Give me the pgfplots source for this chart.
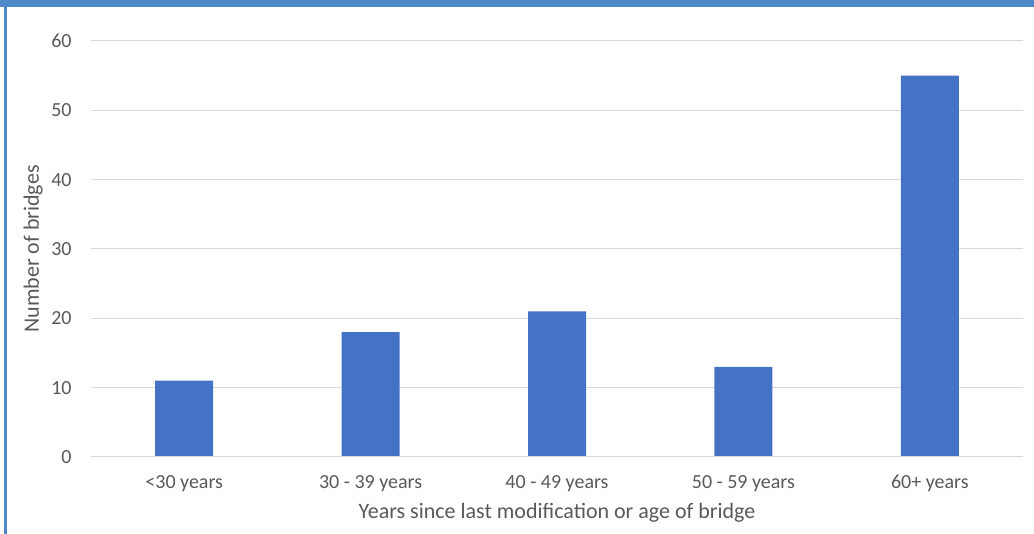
\documentclass[border=0pt]{standalone}
\usepackage{fontspec}
\setmainfont{Carlito}
\usepackage{pgfplots}
\pgfplotsset{compat=1.18}
\definecolor{barblue}{HTML}{4472C4}
\definecolor{frameblue}{HTML}{4F88C8}
\definecolor{gridgray}{HTML}{D9D9D9}
\definecolor{txtgray}{HTML}{595959}
\begin{document}
\begin{tikzpicture}[x=0.75pt,y=0.75pt]
% page is 1034 x 534 px, 1px = 0.75pt, origin bottom left
\path[use as bounding box] (0,0) rectangle (1034,534);
\fill[frameblue] (0,527) rectangle (1034,534);
\fill[frameblue] (4,0) rectangle (7,534);
\begin{axis}[
    at={(68.25pt,57.75pt)}, anchor=south west,
    scale only axis,
    width=699pt, height=312pt,
    ybar, bar width=43.5pt,
    xmin=-0.5, xmax=4.5,
    ymin=0, ymax=60,
    ytick={0,10,...,60},
    xtick=data,
    xticklabels={<30 years,30 - 39 years,40 - 49 years,50 - 59 years,60+ years},
    axis x line*=bottom,
    axis y line*=left,
    axis line style={draw=none},
    ymajorgrids, grid style={gridgray, line width=0.75pt},
    major tick length=0pt,
    tick label style={font=\fontsize{15}{18}\selectfont, text=txtgray},
    /pgf/number format/assume math mode=true,
    yticklabel style={anchor=east, xshift=-11pt},
    xticklabel style={yshift=-10pt},
    xlabel={Years since last modification or age of bridge},
    ylabel={Number of bridges},
    label style={font=\fontsize{16.5}{19}\selectfont, text=txtgray},
    xlabel style={yshift=-2pt},
    ylabel style={at={(axis description cs:-0.062,0.5)}, anchor=center},
]
\addplot[fill=barblue, draw=none] coordinates {(0,11) (1,18) (2,21) (3,13) (4,55)};
\draw[gridgray, line width=0.75pt] (rel axis cs:0,0) -- (rel axis cs:1,0);
\end{axis}
\end{tikzpicture}
\end{document}
